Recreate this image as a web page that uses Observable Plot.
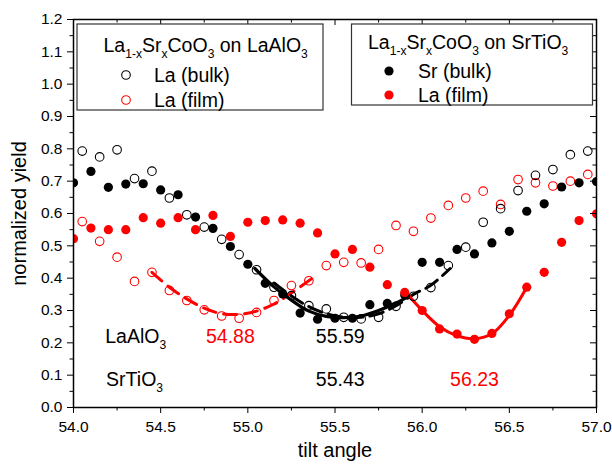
<!DOCTYPE html>
<html><head><meta charset="utf-8">
<script src="https://cdn.jsdelivr.net/npm/d3@7"></script>
<script src="https://cdn.jsdelivr.net/npm/@observablehq/plot@0.6"></script>
<style>
body{margin:0;background:#fff;}
#chart{position:relative;width:612px;height:468px;}
</style></head><body><div id="chart"></div>
<script>
// ---- data ----
const xOffset = [54.05,54.15,54.25,54.35,54.45,54.55,54.65,54.75,54.85,54.95,55.05,55.15,55.25,55.35,55.45,55.55,55.65,55.75,55.85,55.95,56.05,56.15,56.25,56.35,56.45,56.55,56.65,56.75,56.85,56.95];
const xGrid = [54.0,54.1,54.2,54.3,54.4,54.5,54.6,54.7,54.8,54.9,55.0,55.1,55.2,55.3,55.4,55.5,55.6,55.7,55.8,55.9,56.0,56.1,56.2,56.3,56.4,56.5,56.6,56.7,56.8,56.9,57.0];

// La1-xSrxCoO3 on LaAlO3
const laBulkLAO = [0.793,0.775,0.797,0.708,0.731,0.648,0.596,0.558,0.520,0.473,0.426,0.372,0.346,0.315,0.305,0.279,0.274,0.279,0.313,0.344,0.371,0.439,0.496,0.573,0.615,0.671,0.718,0.736,0.782,0.793];
const laFilmLAO = [0.575,0.514,0.465,0.390,0.418,0.362,0.331,0.302,0.283,0.276,0.294,0.331,0.377,0.392,0.439,0.449,0.447,0.489,0.563,0.545,0.586,0.625,0.648,0.669,0.628,0.705,0.695,0.685,0.700,0.721];
// La1-xSrxCoO3 on SrTiO3
const srBulkSTO = [0.695,0.730,0.681,0.691,0.692,0.673,0.658,0.589,0.554,0.498,0.443,0.384,0.351,0.292,0.273,0.276,0.276,0.318,0.322,0.348,0.449,0.449,0.489,0.475,0.509,0.545,0.607,0.630,0.682,0.695,0.699];
const laFilmSTO = [0.522,0.555,0.550,0.550,0.587,0.570,0.587,0.550,0.594,0.529,0.573,0.578,0.580,0.570,0.540,0.475,0.489,0.434,0.380,0.356,0.300,0.243,0.227,0.211,0.229,0.290,0.372,0.418,0.511,0.578,0.599];

// fitted curves
const fitFilmLAOx = [54.45,54.55,54.65,54.75,54.85,54.95,55.05,55.15,55.25,55.37];
const fitFilmLAOy = [0.418,0.372,0.336,0.307,0.290,0.288,0.298,0.320,0.354,0.400];
const fitBulkLAOx = [55.15,55.25,55.35,55.45,55.55,55.65,55.75,55.85,55.95,56.05,56.16];
const fitBulkLAOy = [0.385,0.345,0.312,0.290,0.279,0.279,0.290,0.315,0.350,0.378,0.430];
const fitBulkSTOx = [55.04,55.15,55.25,55.35,55.45,55.55,55.65,55.75,55.85,55.92];
const fitBulkSTOy = [0.430,0.373,0.332,0.298,0.282,0.278,0.283,0.300,0.323,0.343];
const fitFilmSTOx = [55.90,56.0,56.1,56.2,56.3,56.4,56.5,56.6];
const fitFilmSTOy = [0.360,0.300,0.250,0.222,0.213,0.228,0.285,0.372];

// annotations
const annText = ["54.88","55.59","55.43","56.23"];
const annX = [54.90,55.53,55.53,56.30];
const annY = [0.219,0.219,0.086,0.086];
const annColor = ["red","black","black","red"];
const chemName = [["LaAlO","3"],["SrTiO","3"]];
const chemX = [54.185,54.19];
const chemY = [0.219,0.086];

// ticks
const xMajor = [54.0,54.5,55.0,55.5,56.0,56.5,57.0];
const xMinor = [54.25,54.75,55.25,55.75,56.25,56.75];
const yMajor = [0.0,0.1,0.2,0.3,0.4,0.5,0.6,0.7,0.8,0.9,1.0,1.1,1.2];
const yMinor = [0.05,0.15,0.25,0.35,0.45,0.55,0.65,0.75,0.85,0.95,1.05,1.15];

// ---- build ----
const FONT = "'Liberation Sans', Arial, Helvetica, sans-serif";
const W = 612, H = 468, ML = 73, MR = 16, MT = 19, MB = 61;
const PW = W - ML - MR, PH = H - MT - MB;
const pts = (xs, ys) => xs.map((x, i) => ({x, y: ys[i]}));

const openBlack = pts(xOffset, laBulkLAO);
const openRed = pts(xOffset, laFilmLAO);
const fillBlack = pts(xGrid, srBulkSTO);
const fillRed = pts(xGrid, laFilmSTO);
const ann = annText.map((t, i) => ({t, x: annX[i], y: annY[i], c: annColor[i]}));

const plot = Plot.plot({
  width: W, height: H, marginLeft: ML, marginRight: MR, marginTop: MT, marginBottom: MB,
  style: {fontFamily: FONT, fontSize: "15px", color: "black", background: "white"},
  x: {domain: [54, 57]},
  y: {domain: [0, 1.2]},
  marks: [
    Plot.line(pts(fitFilmLAOx, fitFilmLAOy), {x: "x", y: "y", stroke: "red", strokeWidth: 3, strokeDasharray: "13,8", curve: "catmull-rom"}),
    Plot.line(pts(fitBulkLAOx, fitBulkLAOy), {x: "x", y: "y", stroke: "black", strokeWidth: 3, strokeDasharray: "14,7", curve: "catmull-rom"}),
    Plot.line(pts(fitBulkSTOx, fitBulkSTOy), {x: "x", y: "y", stroke: "black", strokeWidth: 3.2, curve: "catmull-rom"}),
    Plot.line(pts(fitFilmSTOx, fitFilmSTOy), {x: "x", y: "y", stroke: "red", strokeWidth: 3, curve: "catmull-rom"}),
    Plot.dot(openRed, {x: "x", y: "y", r: 4.3, stroke: "red", strokeWidth: 1.1, fill: "none", clip: true}),
    Plot.dot(openBlack, {x: "x", y: "y", r: 4.3, stroke: "black", strokeWidth: 1.1, fill: "none", clip: true}),
    Plot.dot(fillBlack, {x: "x", y: "y", r: 4.6, fill: "black", stroke: "none", clip: true}),
    Plot.dot(fillRed, {x: "x", y: "y", r: 4.6, fill: "red", stroke: "none", clip: true}),
    // bottom axis
    Plot.axisX({ticks: xMajor, tickSize: 6, tickPadding: 7, tickFormat: d => d.toFixed(1), label: null, fontSize: 15.5}),
    Plot.axisX({ticks: xMinor, tickSize: 3.5, tickFormat: () => "", label: null}),
    // left axis
    Plot.axisY({ticks: yMajor, tickSize: 6, tickPadding: 5, tickFormat: d => d.toFixed(1), label: null, fontSize: 15.5}),
    Plot.axisY({ticks: yMinor, tickSize: 3.5, tickFormat: () => "", label: null}),
    // inward ticks on top and right
    Plot.tickX(xMajor, {x: d => d, insetBottom: PH - 6, stroke: "black"}),
    Plot.tickX(xMinor, {x: d => d, insetBottom: PH - 3.5, stroke: "black"}),
    Plot.tickY(yMajor, {y: d => d, insetLeft: PW - 6, stroke: "black"}),
    Plot.tickY(yMinor, {y: d => d, insetLeft: PW - 3.5, stroke: "black"}),
    Plot.frame({stroke: "black", strokeWidth: 1.5}),
    // axis titles
    Plot.text(["tilt angle"], {frameAnchor: "bottom", dy: 43, lineAnchor: "middle", textAnchor: "middle", fontSize: 20, fill: "black"}),
    Plot.text(["normalized yield"], {frameAnchor: "left", dx: -54, rotate: -90, lineAnchor: "middle", textAnchor: "middle", fontSize: 20, fill: "black"}),
    // annotation numbers
    Plot.text(ann, {x: "x", y: "y", text: "t", fill: "c", fontSize: 19.5})
  ]
});
document.getElementById("chart").appendChild(plot);

// ---- rich text (subscripts) ----
const svg = d3.select(plot);
function rich(x, y, parts, size, color) {
  const t = svg.append("text").attr("x", x).attr("y", y).attr("text-anchor", "start")
    .attr("font-family", FONT).attr("font-size", size).attr("fill", color);
  let down = false;
  for (const [s, sub] of parts) {
    const ts = t.append("tspan").text(s);
    if (sub) {
      ts.attr("font-size", size * 0.62);
      if (!down) { ts.attr("dy", size * 0.32); down = true; }
    } else if (down) {
      ts.attr("dy", -size * 0.32); down = false;
    }
  }
  return t;
}
const sx = plot.scale("x"), sy = plot.scale("y");
chemName.forEach((n, i) => {
  rich(sx.apply(chemX[i]), sy.apply(chemY[i]) + 19.5 * 0.34, [[n[0], false], [n[1], true]], 19.5, "black");
});

// ---- legends ----
function legendBox(x, y, w, h) {
  svg.append("rect").attr("x", x).attr("y", y).attr("width", w).attr("height", h)
    .attr("fill", "white").attr("stroke", "#333").attr("stroke-width", 1.2);
}
function titleParts(sub) {
  return [["La", false], ["1-x", true], ["Sr", false], ["x", true], ["CoO", false], ["3", true], [" on " + sub, false], ["3", true]];
}
const LF = 19.5;
legendBox(77, 24, 246, 86);
rich(103.5, 52, titleParts("LaAlO"), LF, "black");
svg.append("circle").attr("cx", 126).attr("cy", 75).attr("r", 4.3).attr("fill", "none").attr("stroke", "black").attr("stroke-width", 1.1);
rich(154, 82, [["La (bulk)", false]], LF, "black");
svg.append("circle").attr("cx", 126).attr("cy", 100).attr("r", 4.3).attr("fill", "none").attr("stroke", "red").attr("stroke-width", 1.1);
rich(154, 107, [["La (film)", false]], LF, "black");

legendBox(351.5, 24, 241, 81);
rich(368, 49, titleParts("SrTiO"), LF, "black");
svg.append("circle").attr("cx", 389).attr("cy", 71).attr("r", 4.6).attr("fill", "black");
rich(418, 78, [["Sr (bulk)", false]], LF, "black");
svg.append("circle").attr("cx", 389).attr("cy", 95).attr("r", 4.6).attr("fill", "red");
rich(418, 102, [["La (film)", false]], LF, "black");
</script>
</body></html>
